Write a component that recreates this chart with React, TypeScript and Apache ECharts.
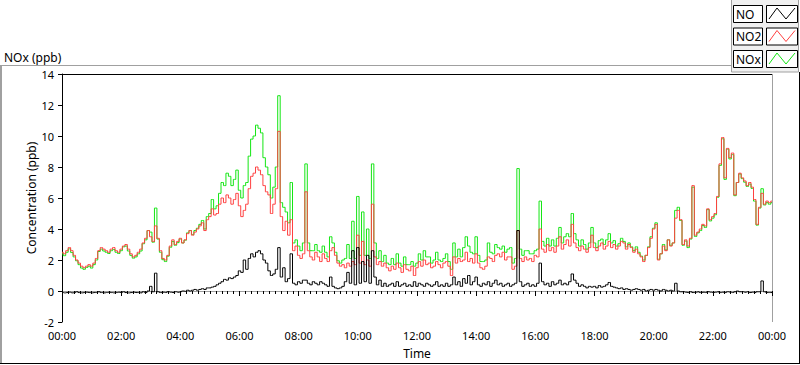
import React, { useEffect, useRef } from "react";
import * as echarts from "echarts";

// sampling: one value every 5 minutes from 00:00 to 24:00
const STEP_MIN = 5;
const X_MAX_MIN = 1440;

const no2: number[] = [
  2.5, 2.4, 2.6, 2.8, 2.6, 2.3, 2.0, 1.8, 1.6, 1.5, 1.6, 1.7,
  1.6, 1.8, 2.1, 2.6, 2.8, 2.7, 2.6, 2.5, 2.7, 2.8, 2.6, 2.5,
  2.7, 2.9, 3.0, 2.7, 2.4, 2.2, 2.3, 2.5, 2.7, 3.1, 3.4, 3.9,
  3.5, 3.2, 4.2, 3.4, 2.6, 2.1, 2.0, 2.3, 2.9, 3.3, 3.0, 3.2,
  3.4, 3.1, 3.3, 3.7, 3.9, 3.6, 3.8, 4.0, 4.2, 4.4, 3.9, 4.6,
  4.8, 5.3, 4.9, 5.0, 5.6, 6.0, 5.7, 6.2, 6.0, 5.6, 5.9, 6.3,
  5.5, 4.8, 5.2, 5.6, 6.6, 7.4, 7.6, 8.0, 7.8, 7.5, 6.8, 6.4,
  6.2, 5.0, 5.6, 6.6, 10.3, 4.8, 3.9, 4.5, 3.6, 4.6, 2.6, 2.9,
  2.3, 2.1, 2.4, 6.4, 2.6, 2.2, 2.0, 2.5, 2.2, 1.9, 2.4, 2.1,
  1.9, 2.6, 2.8, 2.3, 1.8, 1.6, 1.7, 1.5, 1.8, 1.6, 1.9, 1.7,
  3.6, 1.8, 3.2, 1.7, 2.0, 1.6, 5.6, 2.2, 1.7, 1.9, 1.6, 1.8,
  1.5, 1.3, 1.6, 1.4, 1.8, 1.5, 1.2, 1.7, 1.4, 1.3, 1.6, 1.0,
  1.5, 1.9, 1.6, 2.0, 1.7, 1.8, 1.5, 1.6, 1.9, 1.7, 1.5, 1.8,
  1.9, 1.6, 1.0, 2.2, 1.8, 2.1, 1.9, 2.0, 2.5, 1.9, 2.1, 1.8,
  2.4, 1.8, 1.5, 1.4, 1.6, 2.2, 2.1, 1.9, 2.3, 2.4, 2.2, 2.5,
  2.0, 2.2, 2.2, 1.4, 1.6, 3.9, 2.1, 1.9, 2.2, 2.0, 2.1, 1.9,
  2.3, 2.2, 4.0, 2.7, 2.5, 3.0, 2.6, 2.8, 2.5, 2.9, 3.5, 2.7,
  3.0, 3.3, 2.9, 4.3, 3.1, 2.8, 2.6, 2.9, 2.7, 2.5, 2.8, 3.6,
  2.8, 2.6, 2.9, 3.1, 2.7, 2.9, 3.2, 2.8, 3.0, 2.7, 2.9, 3.2,
  3.1, 2.7, 3.0, 2.8, 2.5, 2.7, 2.4, 2.2, 1.9, 2.3, 2.8, 3.4,
  4.0, 4.3, 2.0, 2.4, 2.9, 2.6, 3.3, 2.9, 3.1, 4.7, 5.2, 4.6,
  3.0, 3.3, 2.9, 3.4, 6.8, 3.6, 3.8, 4.0, 4.3, 4.2, 5.3, 4.6,
  4.8, 5.0, 6.1, 8.2, 9.9, 7.3, 9.2, 8.6, 8.9, 6.2, 7.0, 7.6,
  7.3, 7.1, 6.8, 7.0, 6.7, 5.9, 4.3, 5.4, 6.3, 5.6, 5.8, 5.7,
  5.8,
];

const no: number[] = [
  -0.1, -0.12, -0.1, -0.08, -0.12, -0.1, -0.05, -0.1, -0.12, -0.1, -0.08, -0.1,
  -0.12, -0.1, -0.1, -0.05, -0.1, -0.12, -0.1, -0.08, -0.1, -0.12, -0.1, -0.08,
  -0.1, -0.05, -0.1, -0.12, -0.1, -0.08, -0.1, -0.1, -0.12, -0.05, -0.1, 0.0,
  0.3, -0.05, 1.15, -0.05, -0.1, -0.08, -0.1, -0.05, -0.08, -0.1, -0.05, -0.08,
  -0.05, 0.0, -0.02, 0.05, 0.0, 0.05, 0.1, 0.05, 0.1, 0.15, 0.1, 0.2,
  0.2, 0.25, 0.3, 0.4, 0.5, 0.6, 0.75, 0.7, 0.85, 0.8, 0.9, 1.0,
  1.3, 1.2, 2.0, 1.4, 2.1, 2.4, 2.2, 2.5, 2.6, 2.4, 2.0, 1.8,
  1.3, 1.0, 1.1, 1.4, 2.8, 0.9, 1.5, 0.6, 0.8, 2.4, 0.5, 0.4,
  0.6, 0.5, 0.7, 0.7, 0.5, 0.4, 0.6, 0.5, 0.4, 0.6, 0.5, 0.4,
  0.3, 0.9, 0.3, 0.2, 0.15, 0.2, 0.3, 0.6, 1.2, 0.5, 2.6, 0.4,
  2.8, 0.5, 1.9, 0.6, 2.3, 0.5, 2.6, 0.9, 0.4, 0.7, 0.3, 0.5,
  0.3, 0.4, 0.5, 0.3, 0.6, 0.3, 0.4, 0.5, 0.3, 0.4, 0.3, 0.6,
  0.3, 0.5, 0.4, 0.3, 0.5, 0.4, 0.3, 0.4, 0.6, 0.3, 0.4, 0.3,
  0.5, 0.3, 0.4, 0.9, 0.4, 0.6, 0.3, 0.8, 0.5, 1.0, 0.4, 0.6,
  0.9, 0.4, 0.3, 0.5, 0.4, 0.6, 0.3, 0.5, 0.7, 0.4, 0.5, 0.3,
  0.4, 0.5, 0.3, 0.4, 0.5, 3.9, 0.6, 0.3, 0.4, 0.5, 0.3, 0.4,
  0.3, 0.5, 1.8, 0.6, 0.4, 0.5, 0.3, 0.6, 0.4, 0.5, 0.7, 0.4,
  0.5, 0.4, 0.6, 1.1, 0.7, 0.5, 0.3, 0.4, 0.3, 0.2, 0.3, 0.25,
  0.3, 0.2, 0.35, 0.25, 0.3, 0.4, 0.55, 0.3, 0.25, 0.2, 0.15, 0.2,
  0.1, 0.15, 0.1, 0.05, 0.1, 0.15, 0.1, 0.05, 0.1, 0.0, 0.05, 0.1,
  0.05, 0.1, 0.05, 0.0, 0.1, 0.05, 0.0, 0.05, 0.0, 0.5, 0.0, -0.05,
  -0.05, -0.08, -0.1, -0.05, -0.1, -0.08, -0.05, -0.1, -0.08, -0.1, -0.05, -0.08,
  -0.1, -0.08, -0.05, -0.1, -0.08, -0.1, -0.05, -0.08, -0.1, -0.05, 0.0, -0.05,
  -0.05, -0.08, -0.05, -0.1, -0.08, -0.1, -0.05, -0.05, 0.65, -0.05, -0.1, -0.1,
  -0.1,
];

const nox: number[] = [
  2.4, 2.28, 2.5, 2.72, 2.48, 2.2, 1.95, 1.7, 1.48, 1.4, 1.52, 1.6,
  1.48, 1.7, 2.0, 2.55, 2.7, 2.58, 2.5, 2.42, 2.6, 2.68, 2.5, 2.42,
  2.6, 2.85, 2.9, 2.58, 2.3, 2.12, 2.2, 2.4, 2.58, 3.05, 3.3, 3.9,
  3.8, 3.15, 5.35, 3.35, 2.5, 2.02, 1.9, 2.25, 2.82, 3.2, 2.95, 3.12,
  3.35, 3.1, 3.28, 3.75, 3.9, 3.65, 3.9, 4.05, 4.3, 4.55, 4.0, 4.8,
  5.0, 5.9, 5.3, 5.5, 6.3, 7.0, 6.8, 7.6, 7.4, 6.8, 7.2, 7.8,
  6.5, 6.0, 6.8, 7.0, 8.7, 9.8, 10.0, 10.7, 10.5, 10.2, 8.6, 8.0,
  7.5, 6.0, 6.7, 8.0, 12.6, 5.7, 5.4, 5.1, 4.4, 7.0, 3.1, 3.3,
  2.9, 2.6, 3.1, 8.2, 3.1, 2.6, 2.6, 3.0, 2.6, 2.5, 2.9, 2.5,
  2.2, 3.5, 3.1, 2.5, 1.95, 1.8, 2.0, 2.1, 3.0, 2.1, 4.5, 2.1,
  6.1, 2.3, 5.1, 2.3, 4.0, 2.1, 8.2, 3.1, 2.1, 2.6, 1.9, 2.3,
  1.8, 1.7, 2.1, 1.7, 2.4, 1.8, 1.6, 2.2, 1.7, 1.7, 1.9, 1.6,
  1.8, 2.4, 2.0, 2.6, 2.2, 2.2, 1.8, 2.0, 2.5, 2.0, 1.9, 2.1,
  2.4, 1.9, 1.4, 3.1, 2.2, 2.7, 2.2, 2.8, 3.5, 2.9, 2.5, 2.4,
  3.5, 2.3, 1.9, 1.9, 2.0, 3.1, 2.5, 2.4, 3.0, 2.8, 2.7, 2.9,
  2.5, 2.7, 2.8, 1.8, 2.1, 7.9, 2.7, 2.3, 2.6, 2.6, 2.4, 2.4,
  2.6, 2.7, 5.8, 3.2, 2.9, 3.4, 2.9, 3.3, 2.9, 3.4, 4.1, 3.1,
  3.5, 3.7, 3.5, 5.0, 3.7, 3.3, 2.9, 3.3, 3.0, 2.7, 3.1, 4.1,
  3.1, 2.8, 3.25, 3.35, 3.0, 3.3, 3.7, 3.1, 3.25, 2.9, 3.05, 3.4,
  3.2, 2.85, 3.1, 2.85, 2.6, 2.85, 2.5, 2.25, 2.0, 2.3, 2.85, 3.5,
  4.05, 4.4, 2.05, 2.4, 3.0, 2.65, 3.3, 2.95, 3.1, 5.2, 5.4, 4.55,
  2.95, 3.22, 2.8, 3.35, 6.7, 3.52, 3.75, 3.9, 4.22, 4.1, 5.25, 4.52,
  4.7, 4.92, 6.05, 8.1, 9.82, 7.2, 9.15, 8.52, 8.8, 6.15, 7.0, 7.55,
  7.25, 7.02, 6.75, 6.9, 6.62, 5.8, 4.25, 5.35, 6.6, 5.55, 5.7, 5.6,
  5.7,
];

const legendNames = ["NO", "NO2", "NOx"];
const seriesColors: Record<string, string> = {
  NO: "#000000",
  NO2: "#ff4040",
  NOx: "#14e614",
};

const FONT = "'Noto Sans', 'Liberation Sans', sans-serif";

function fmtTime(v: number): string {
  const h = Math.round(v / 60) % 24;
  return (h < 10 ? "0" : "") + h + ":00";
}

export default function App() {
  const ref = useRef<HTMLDivElement>(null);

  useEffect(() => {
    document.body.style.margin = "0";
    const chart = echarts.init(ref.current!, null, { renderer: "svg" });
    const toData = (arr: number[]) => arr.map((v, i) => [i * STEP_MIN, v]);

    const legendGraphics: any[] = [];
    legendNames.forEach((name, r) => {
      const y0 = 5 + r * 22.5;
      legendGraphics.push(
        {
          type: "rect",
          shape: { x: 733.5, y: y0 + 0.5, width: 29, height: 17 },
          style: { fill: "#ffffff", stroke: "#000000", lineWidth: 1 },
        },
        {
          type: "text",
          x: 736,
          y: y0 + 9,
          style: {
            text: name,
            fill: "#000",
            font: `12px ${FONT}`,
            textVerticalAlign: "middle",
          },
        },
        {
          type: "rect",
          shape: { x: 766.5, y: y0 + 0.5, width: 31, height: 17 },
          style: { fill: "#ffffff", stroke: "#000000", lineWidth: 1 },
        },
        {
          type: "polyline",
          shape: {
            points: [
              [769, y0 + 14],
              [777, y0 + 3],
              [786, y0 + 14],
              [795, y0 + 3],
            ],
          },
          style: { stroke: seriesColors[name], lineWidth: 1, fill: "none" },
        }
      );
    });

    const lineSeries = (name: string, arr: number[], z: number) => ({
      name,
      type: "line",
      data: toData(arr),
      showSymbol: false,
      symbol: "none",
      step: "middle",
      lineStyle: { color: seriesColors[name], width: 1 },
      z,
    });

    const option: any = {
      animation: false,
      backgroundColor: "#ffffff",
      grid: { left: 62, right: 28, top: 74, bottom: 43, containLabel: false },
      xAxis: {
        type: "value",
        min: 0,
        max: X_MAX_MIN,
        interval: 120,
        axisLine: { show: true, lineStyle: { color: "#a0a0a0", width: 1 } },
        axisTick: { show: true, length: 5, lineStyle: { color: "#000" } },
        minorTick: { show: true, splitNumber: 10, length: 3, lineStyle: { color: "#000" } },
        splitLine: { show: false },
        axisLabel: {
          formatter: fmtTime,
          color: "#000",
          fontSize: 11,
          fontFamily: FONT,
          margin: 8,
        },
      },
      yAxis: {
        type: "value",
        min: -2,
        max: 14,
        interval: 2,
        axisLine: { show: true, lineStyle: { color: "#000", width: 1 } },
        axisTick: { show: true, length: 4, lineStyle: { color: "#000" } },
        splitLine: { show: false },
        axisLabel: { color: "#000", fontSize: 11, fontFamily: FONT, margin: 8 },
      },
      series: [
        lineSeries("NOx", nox, 2),
        lineSeries("NO2", no2, 3),
        lineSeries("NO", no, 4),
      ],
      graphic: [
        // legend panel
        {
          type: "rect",
          shape: { x: 731.5, y: -1, width: 67, height: 73 },
          style: { fill: "#f0f0f0", stroke: "#a0a0a0", lineWidth: 1 },
          z: 0,
        },
        // outer frame
        { type: "line", shape: { x1: 0, y1: 65.5, x2: 731.5, y2: 65.5 }, style: { stroke: "#a0a0a0", lineWidth: 1 } },
        { type: "line", shape: { x1: 1, y1: 65.5, x2: 1, y2: 363 }, style: { stroke: "#a0a0a0", lineWidth: 2 } },
        { type: "line", shape: { x1: 0, y1: 363.5, x2: 800, y2: 363.5 }, style: { stroke: "#000", lineWidth: 1 } },
        { type: "line", shape: { x1: 799.5, y1: 72, x2: 799.5, y2: 364 }, style: { stroke: "#000", lineWidth: 1 } },
        // plot frame
        { type: "line", shape: { x1: 62, y1: 74.5, x2: 772.5, y2: 74.5 }, style: { stroke: "#000", lineWidth: 1 } },
        { type: "line", shape: { x1: 772.5, y1: 74, x2: 772.5, y2: 322 }, style: { stroke: "#a0a0a0", lineWidth: 1 } },
        // title
        {
          type: "text",
          x: 4,
          y: 57,
          style: {
            text: "NOx (ppb)",
            fill: "#000",
            font: `12px ${FONT}`,
            textVerticalAlign: "middle",
          },
        },
        // y axis name
        {
          type: "text",
          x: 31,
          y: 198,
          rotation: Math.PI / 2,
          style: {
            text: "Concentration (ppb)",
            fill: "#000",
            font: `12px ${FONT}`,
            textAlign: "center",
            textVerticalAlign: "middle",
          },
        },
        // x axis name
        {
          type: "text",
          x: 417,
          y: 353,
          style: {
            text: "Time",
            fill: "#000",
            font: `12px ${FONT}`,
            textAlign: "center",
            textVerticalAlign: "middle",
          },
        },
        ...legendGraphics,
      ],
    };

    chart.setOption(option);
    return () => chart.dispose();
  }, []);

  return (
    <div
      ref={ref}
      style={{ position: "absolute", left: 0, top: 0, width: 800, height: 365 }}
    />
  );
}
